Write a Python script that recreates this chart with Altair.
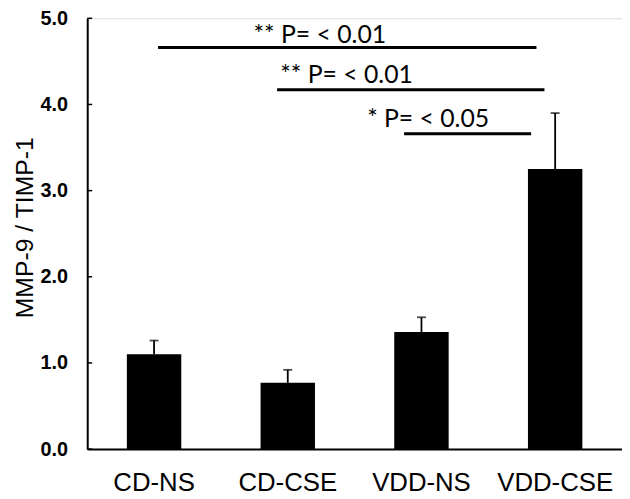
import altair as alt
import pandas as pd

groups = ["CD-NS", "CD-CSE", "VDD-NS", "VDD-CSE"]
means = [1.10, 0.77, 1.36, 3.25]
errors = [0.16, 0.15, 0.17, 0.65]

y_ticks = [0, 1, 2, 3, 4, 5]

sig_x1 = [0.03, 0.92, 1.87]
sig_x2 = [2.86, 2.92, 2.82]
sig_y = [4.66, 4.17, 3.66]
sig_text = ["** P= < 0.01", "** P= < 0.01", "* P= < 0.05"]
sig_text_x = [1.24, 1.44, 2.05]
sig_text_y = [4.81, 4.34, 3.83]

df = pd.DataFrame({"group": groups, "mean": means, "err": errors})
df["upper"] = df["mean"] + df["err"]
ticks_df = pd.DataFrame({"t": y_ticks})
sig_df = pd.DataFrame({"x1": sig_x1, "x2": sig_x2, "y": sig_y})
txt_df = pd.DataFrame({"x": sig_text_x, "y": sig_text_y, "label": sig_text})

H = 435
yscale = alt.Scale(domain=[0, 5], nice=False)
xband = alt.X("group:N", sort=groups,
              scale=alt.Scale(paddingInner=0.593, paddingOuter=0.2965),
              axis=alt.Axis(title=None, ticks=False, labelAngle=0,
                            labelFont="Liberation Sans", labelFontSize=26,
                            labelColor="black", labelPadding=21,
                            domainColor="black", domainWidth=2))
yaxis = alt.Axis(values=y_ticks, format=".1f", ticks=False, grid=False,
                 labelFont="Liberation Sans", labelFontSize=20,
                 labelFontWeight="bold", labelColor="black", labelPadding=20,
                 domainColor="black", domainWidth=2,
                 title="MMP-9 / TIMP-1", titleFont="Liberation Sans",
                 titleFontSize=25, titleFontWeight="normal", titleColor="black",
                 titleX=-63, titleY=211, titleBaseline="middle",
                 titleAlign="center", titleAngle=270)

bars = alt.Chart(df).mark_bar(color="black").encode(
    x=xband,
    y=alt.Y("mean:Q", scale=yscale, axis=yaxis),
)
err_rule = alt.Chart(df).mark_rule(color="black", strokeWidth=1.8).encode(
    x=alt.X("group:N", sort=groups),
    y=alt.Y("mean:Q"),
    y2="upper:Q",
)
err_cap = alt.Chart(df).mark_tick(color="black", size=9, thickness=1.8).encode(
    x=alt.X("group:N", sort=groups),
    y=alt.Y("upper:Q"),
)
inner_ticks = alt.Chart(ticks_df).mark_rule(color="black", strokeWidth=1.5).encode(
    x=alt.value(0), x2=alt.value(5),
    y=alt.Y("t:Q", scale=yscale),
)

band_layer = alt.layer(bars, err_rule, err_cap, inner_ticks)

xq = alt.Scale(domain=[-0.5, 3.5], nice=False, zero=False)
sig_lines = alt.Chart(sig_df).mark_rule(color="black", strokeWidth=3).encode(
    x=alt.X("x1:Q", scale=xq, axis=None),
    x2="x2:Q",
    y=alt.Y("y:Q", scale=yscale),
)
sig_txt = alt.Chart(txt_df).mark_text(font="Lato", fontSize=25, color="black",
                                      baseline="middle", align="center").encode(
    x=alt.X("x:Q", scale=xq, axis=None),
    y=alt.Y("y:Q", scale=yscale),
    text="label:N",
)

chart = alt.layer(band_layer, sig_lines, sig_txt).resolve_scale(
    x="independent"
).properties(
    width=540, height=H,
    autosize=alt.AutoSizeParams(type="none"),
    padding={"left": 80, "top": 8, "right": 0, "bottom": 50},
).configure_view(stroke=None).configure(background="white")

chart.save("out.html", embed_options={"renderer": "svg", "actions": False})
